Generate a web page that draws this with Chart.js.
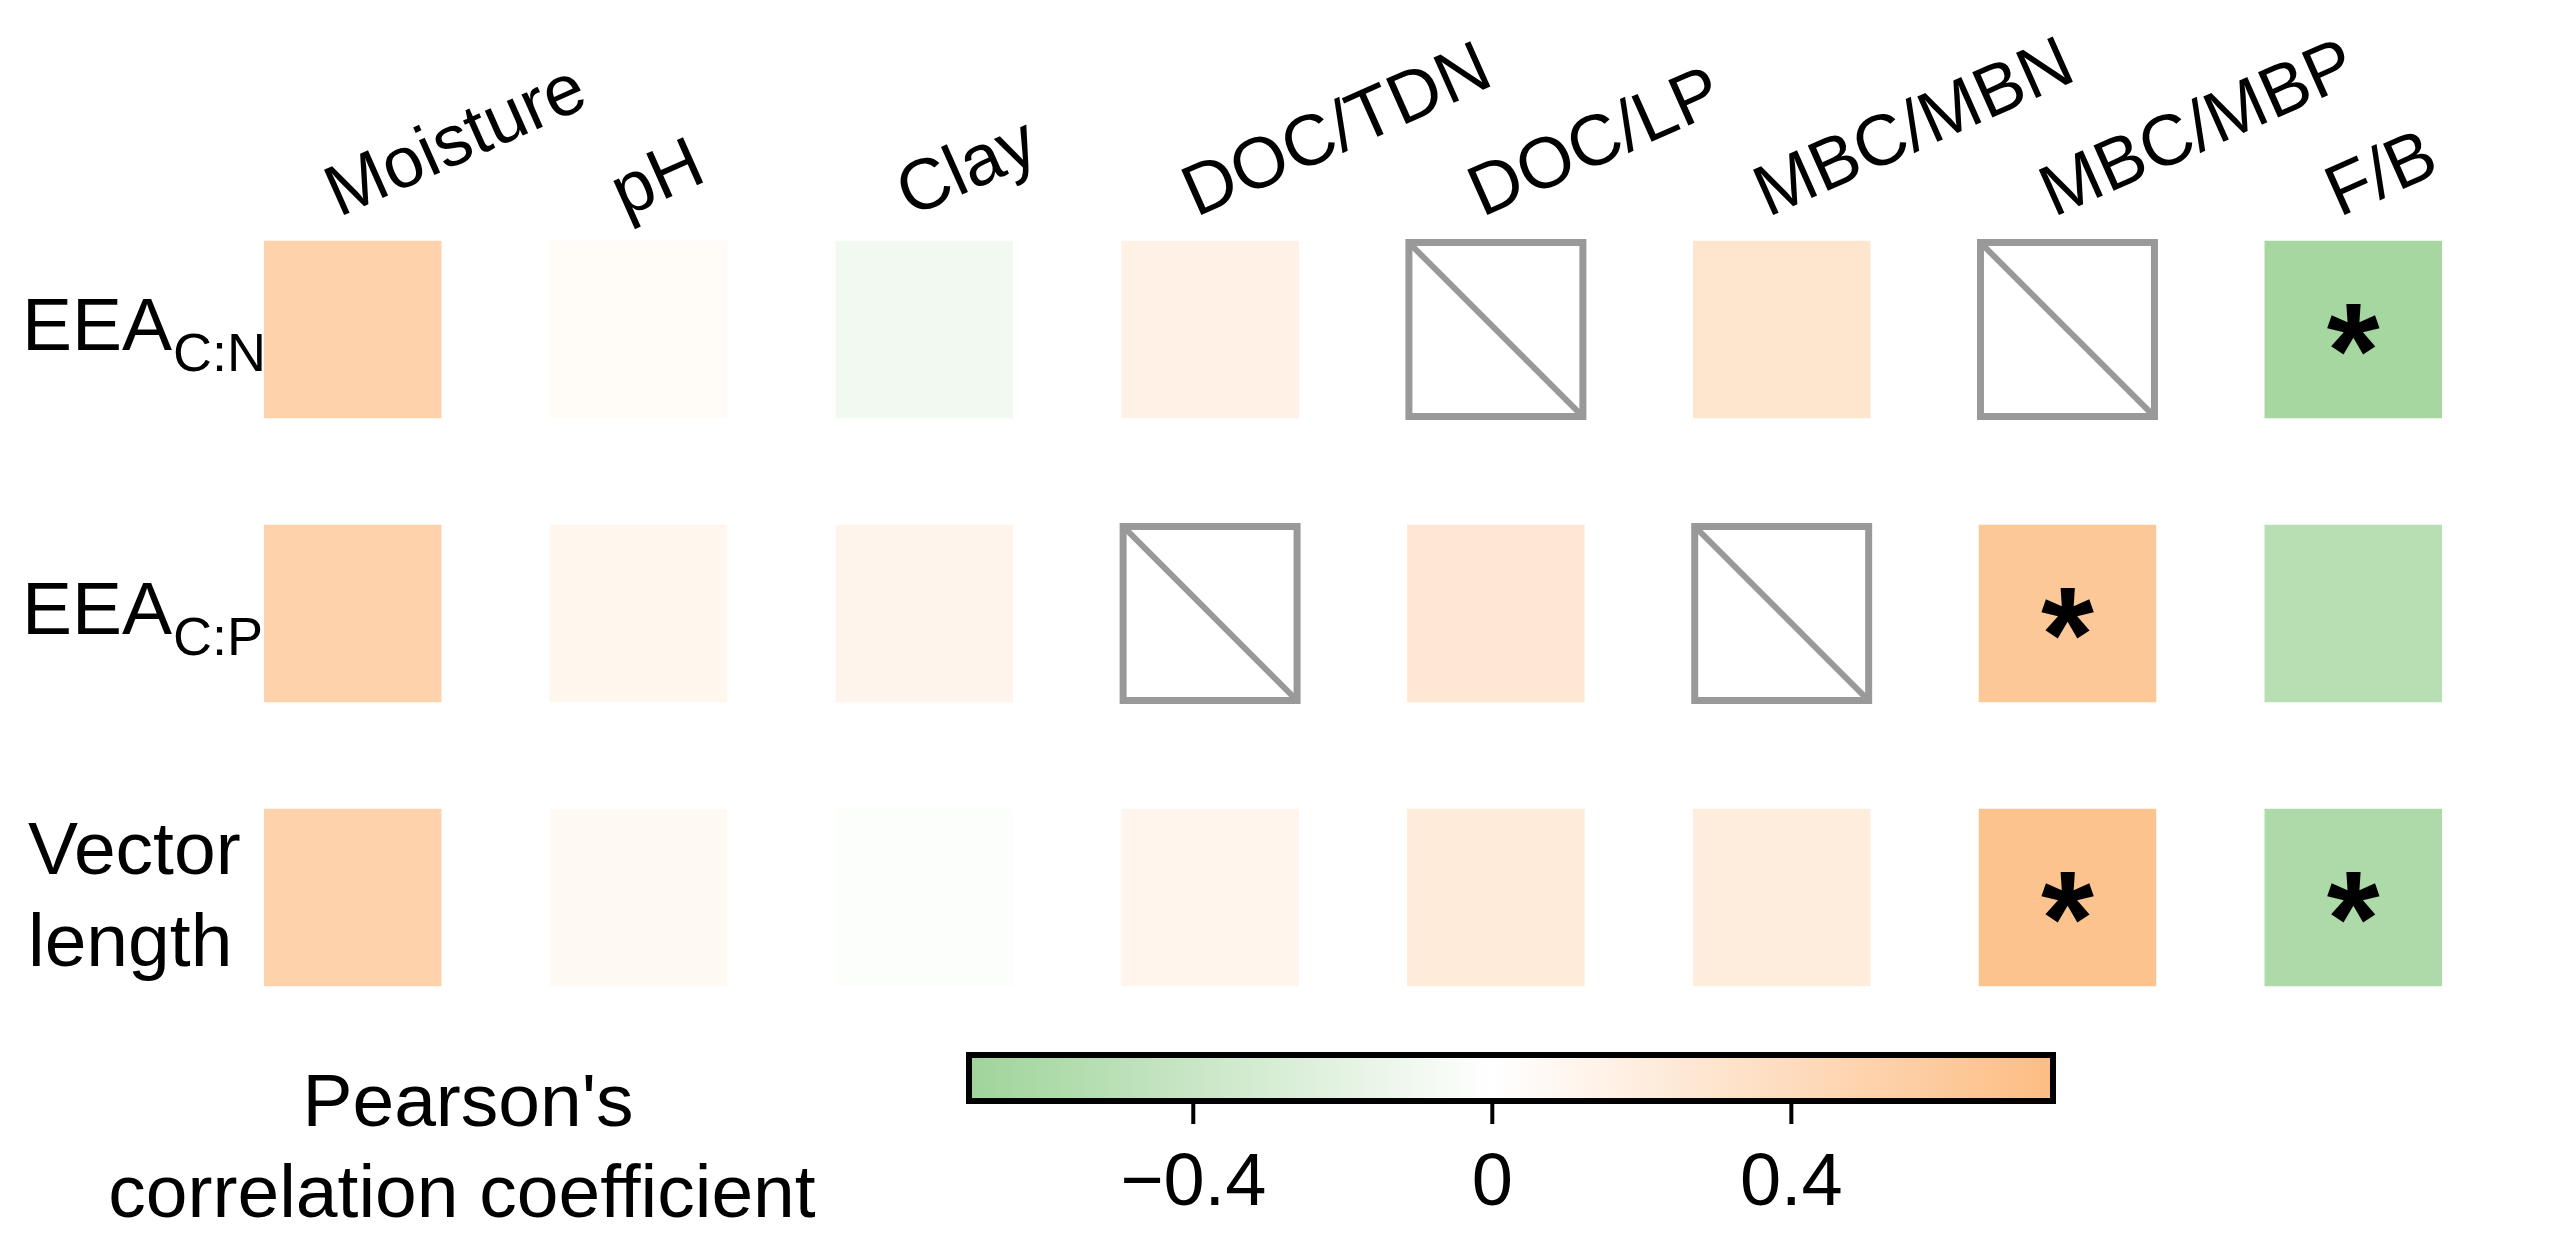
<!DOCTYPE html>
<html>
<head>
<meta charset="utf-8">
<script src="https://cdn.jsdelivr.net/npm/chart.js@4.4.1/dist/chart.umd.min.js"></script>
<style>
  html, body { margin: 0; padding: 0; background: #fff; }
  #wrap { width: 2569px; height: 1248px; }
</style>
</head>
<body>
<div id="wrap"><canvas id="heat" width="2569" height="1248"></canvas></div>
<script>
// columns and rows of the correlation table
var columns = ['Moisture', 'pH', 'Clay', 'DOC/TDN', 'DOC/LP', 'MBC/MBN', 'MBC/MBP', 'F/B'];
var rowMain = ['EEA', 'EEA', 'Vector\nlength'];
var rowSub  = ['C:N', 'C:P', ''];

// Pearson's r (null = not tested, crossed box)
var eeaCN  = [0.50, 0.05, -0.10, 0.16, null, 0.30, null, -0.65];
var eeaCP  = [0.50, 0.10, 0.12, null, 0.26, null, 0.62, -0.52];
var vecLen = [0.50, 0.07, -0.02, 0.11, 0.23, 0.21, 0.68, -0.60];

// significance marks
var sigCN  = [false, false, false, false, false, false, false, true];
var sigCP  = [false, false, false, false, false, false, true, false];
var sigVL  = [false, false, false, false, false, false, true, true];

// colour bar
var cbMin = -0.7, cbMax = 0.75;
var cbTicks = [-0.4, 0, 0.4];
var greenEnd  = [159, 212, 154];
var orangeEnd = [253, 189, 131];

function cellColour(v) {
    var end = v < 0 ? greenEnd : orangeEnd;
    var t = Math.min(1, v < 0 ? v / cbMin : v / cbMax);
    return 'rgb(' + end.map(function (c) { return Math.round(255 + (c - 255) * t); }).join(',') + ')';
}

var rows = [eeaCN, eeaCP, vecLen];
var sigs = [sigCN, sigCP, sigVL];
var cells = [], cellColours = [], naCells = [], stars = [];
rows.forEach(function (row, r) {
    row.forEach(function (v, c) {
        if (v === null) {
            naCells.push({ x: c, y: r });
        } else {
            cells.push({ x: c, y: r });
            cellColours.push(cellColour(v));
        }
        if (sigs[r][c]) stars.push({ x: c, y: r });
    });
});

var FONT = '"Liberation Sans", Arial, sans-serif';

var labelPlugin = {
    id: 'heatLabels',
    afterDraw: function (chart) {
        var ctx = chart.ctx, xs = chart.scales.x, ys = chart.scales.y;
        ctx.save();
        ctx.fillStyle = '#000';
        ctx.textBaseline = 'alphabetic';

        // slanted column labels
        ctx.font = '72px ' + FONT;
        ctx.textAlign = 'left';
        var top = ys.getPixelForValue(0) - 112;
        columns.forEach(function (name, c) {
            ctx.save();
            ctx.translate(xs.getPixelForValue(c) - 14, top);
            ctx.rotate(-24 * Math.PI / 180);
            ctx.fillText(name, 0, 0);
            ctx.restore();
        });

        // row labels
        rowMain.forEach(function (name, r) {
            var yc = ys.getPixelForValue(r);
            ctx.font = '75px ' + FONT;
            if (name.indexOf('\n') >= 0) {
                var parts = name.split('\n');
                ctx.fillText(parts[0], 28, yc - 23);
                ctx.fillText(parts[1], 28, yc + 69);
            } else {
                ctx.fillText(name, 22, yc + 20);
                var w = ctx.measureText(name).width;
                ctx.font = '54px ' + FONT;
                ctx.fillText(rowSub[r], 22 + w + 1, yc + 41);
            }
        });

        // asterisks
        ctx.font = 'bold 136px ' + FONT;
        ctx.textAlign = 'left';
        var m = ctx.measureText('*');
        stars.forEach(function (p) {
            var x = xs.getPixelForValue(p.x) - (m.actualBoundingBoxRight - m.actualBoundingBoxLeft) / 2 + m.actualBoundingBoxLeft;
            var y = ys.getPixelForValue(p.y) + (m.actualBoundingBoxAscent - m.actualBoundingBoxDescent) / 2;
            ctx.fillText('*', x, y);
        });

        // colour bar
        var cbLeft = 969, cbRight = 2053, cbTop = 1055, cbBottom = 1101;
        var cbX = function (v) { return cbLeft + (v - cbMin) / (cbMax - cbMin) * (cbRight - cbLeft); };
        var g = ctx.createLinearGradient(cbLeft, 0, cbRight, 0);
        g.addColorStop(0, 'rgb(' + greenEnd.join(',') + ')');
        g.addColorStop((0 - cbMin) / (cbMax - cbMin), '#ffffff');
        g.addColorStop(1, 'rgb(' + orangeEnd.join(',') + ')');
        ctx.fillStyle = g;
        ctx.fillRect(cbLeft, cbTop, cbRight - cbLeft, cbBottom - cbTop);
        ctx.lineWidth = 6;
        ctx.strokeStyle = '#000';
        ctx.strokeRect(cbLeft, cbTop, cbRight - cbLeft, cbBottom - cbTop);

        ctx.lineWidth = 4;
        ctx.fillStyle = '#000';
        ctx.font = '74px ' + FONT;
        ctx.textAlign = 'center';
        cbTicks.forEach(function (v) {
            var x = cbX(v);
            ctx.beginPath();
            ctx.moveTo(x, cbBottom + 3);
            ctx.lineTo(x, cbBottom + 23);
            ctx.stroke();
            var txt = v === 0 ? '0' : (v < 0 ? '\u2212' : '') + Math.abs(v).toFixed(1);
            ctx.fillText(txt, x, 1205);
        });

        // colour bar title
        ctx.font = '75px ' + FONT;
        ctx.fillText("Pearson's", 468, 1126);
        ctx.fillText('correlation coefficient', 462, 1217);
        ctx.restore();
    }
};

new Chart(document.getElementById('heat'), {
    type: 'scatter',
    data: {
        datasets: [
            {
                label: 'not tested (diagonal)',
                data: naCells,
                pointStyle: 'line',
                pointRotation: 45,
                pointRadius: 121,
                pointBorderColor: '#999999',
                pointBorderWidth: 6,
                clip: false
            },
            {
                label: 'not tested',
                data: naCells,
                pointStyle: 'rect',
                pointRadius: 123,
                pointBackgroundColor: '#ffffff',
                pointBorderColor: '#999999',
                pointBorderWidth: 7,
                clip: false
            },
            {
                label: 'r',
                data: cells,
                pointStyle: 'rect',
                pointRadius: 125.5,
                pointBackgroundColor: cellColours,
                pointBorderWidth: 0,
                clip: false
            }
        ]
    },
    options: {
        responsive: false,
        devicePixelRatio: 1,
        animation: false,
        events: [],
        layout: { padding: { left: 267, right: 22, top: 216, bottom: 237 } },
        plugins: { legend: { display: false }, tooltip: { enabled: false } },
        scales: {
            x: { type: 'linear', min: -0.3, max: 7.3, display: false },
            y: { type: 'linear', min: -0.4, max: 2.4, reverse: true, display: false }
        }
    },
    plugins: [labelPlugin]
});
</script>
</body>
</html>
